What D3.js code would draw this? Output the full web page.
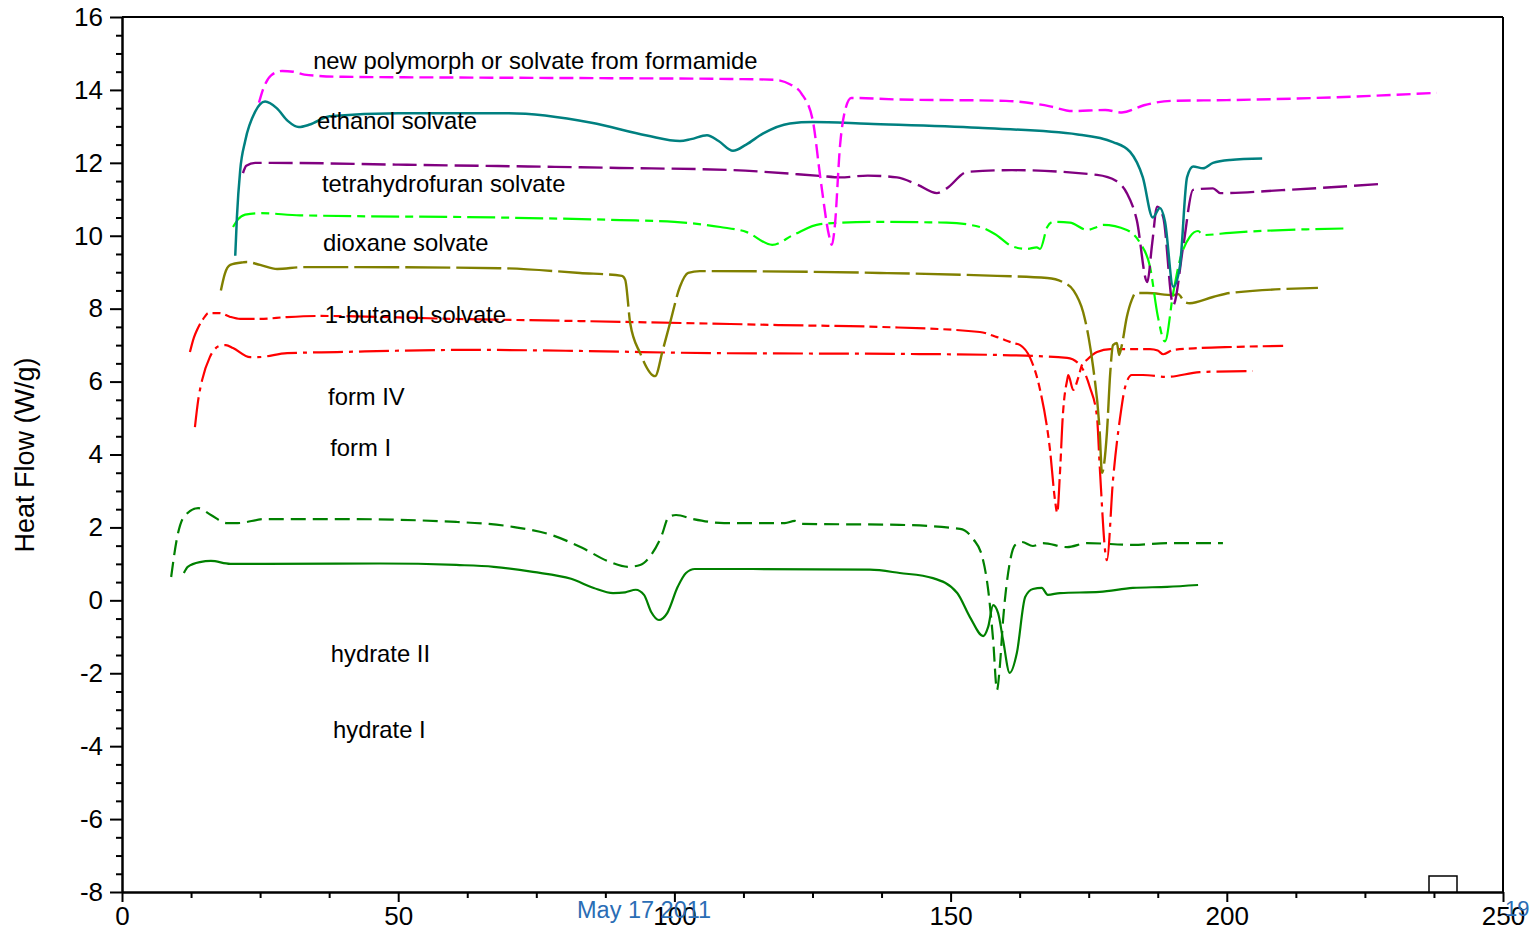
<!DOCTYPE html>
<html>
<head>
<meta charset="utf-8">
<script src="https://cdn.jsdelivr.net/npm/d3@7/dist/d3.min.js"></script>
<style>
  html, body { margin: 0; padding: 0; background: #fff; }
  svg { display: block; font-family: "Liberation Sans", Arial, sans-serif; }
</style>
</head>
<body>
<svg id="chart" width="1539" height="933"></svg>
<script>
// DSC thermograms: temperature (°C) vs heat flow (W/g), traces offset vertically

const xTicks = [0, 50, 100, 150, 200, 250];
const yTicks = [-8, -6, -4, -2, 0, 2, 4, 6, 8, 10, 12, 14, 16];

const formamide = [
  [24.8, 13.65], [25.5, 14.0], [27, 14.4], [29, 14.52], [31, 14.5], [33, 14.42], [40, 14.36],
  [60, 14.34], [90, 14.32], [110, 14.3], [118, 14.28], [121, 14.15], [123, 13.9], [125, 13.2],
  [126.5, 11.5], [128, 10.0], [128.5, 9.75], [129, 10.2], [130, 12.5], [131, 13.5], [132, 13.78],
  [140, 13.74], [160, 13.7], [168, 13.55], [172, 13.42], [178, 13.45], [181, 13.38], [185, 13.58],
  [190, 13.7], [200, 13.72], [220, 13.8], [238, 13.92]
];

const ethanol = [
  [20.5, 9.45], [20.8, 10.5], [21.4, 11.8], [22.3, 12.6], [24.1, 13.4], [25.9, 13.68], [28, 13.5],
  [30, 13.15], [32, 12.98], [34, 13.05], [37.6, 13.28], [50, 13.36], [70, 13.36], [85, 13.1],
  [95, 12.75], [101, 12.6], [103, 12.65], [105.9, 12.76], [108, 12.6], [110.6, 12.33], [113, 12.5],
  [116, 12.8], [120.9, 13.08], [125, 13.12], [135, 13.07], [155, 12.96], [173, 12.78], [179.4, 12.57],
  [182.5, 12.3], [184.8, 11.6], [186.6, 10.5], [187.9, 10.76], [188.8, 10.4], [190.3, 8.6],
  [191.5, 9.15], [192.8, 11.6], [193.9, 11.9], [195.7, 11.85], [197.5, 12.0], [200.6, 12.08], [206.4, 12.12]
];

const thf = [
  [21.9, 11.72], [22.5, 11.92], [24.1, 12.0], [27, 12.0], [50, 11.95], [90, 11.86], [110.6, 11.8],
  [126.4, 11.64], [130, 11.6], [135, 11.65], [140.3, 11.6], [144, 11.4], [147.5, 11.17], [149.3, 11.3],
  [153, 11.75], [161, 11.8], [176.5, 11.67], [180, 11.5], [181.9, 11.17], [183.7, 10.43], [185.6, 8.73],
  [186.5, 9.8], [187.4, 10.8], [188.5, 10.5], [190.3, 8.1], [192.1, 9.7], [193.9, 11.26], [197.5, 11.3],
  [198.8, 11.17], [210, 11.25], [227.7, 11.42]
];

const dioxane = [
  [20.1, 10.24], [21, 10.45], [22.3, 10.58], [25, 10.62], [32.2, 10.56], [68.4, 10.5], [90.2, 10.43],
  [100, 10.38], [108.3, 10.24], [113.1, 10.1], [117.7, 9.75], [121.5, 10.02], [126.4, 10.32],
  [135.4, 10.38], [149.3, 10.36], [155.3, 10.24], [158, 10.05], [161.3, 9.7], [163.8, 9.64],
  [165.6, 9.68], [166.2, 9.64], [167.5, 10.24], [168.5, 10.38], [171.6, 10.36], [174.7, 10.16],
  [176.5, 10.24], [177.6, 10.3], [181.9, 10.16], [184.3, 9.8], [186.1, 9.15], [187.5, 7.8], [188.8, 7.1],
  [190.3, 8.43], [191.5, 9.33], [193.3, 9.97], [194.8, 10.13], [195.7, 10.02], [200.6, 10.08], [221.4, 10.2]
];

const butanol = [
  [17.9, 8.5], [18.6, 8.95], [19.6, 9.2], [21.9, 9.27], [22.6, 9.28], [25, 9.2], [28.1, 9.09],
  [32.8, 9.14], [41.3, 9.14], [68.4, 9.11], [82.9, 8.98], [90.5, 8.9], [91.1, 8.79], [92, 7.6],
  [93.8, 6.78], [96.5, 6.15], [97.9, 6.87], [99.2, 7.6], [101, 8.6], [102.5, 8.98], [104.6, 9.03],
  [137.2, 8.98], [158.4, 8.9], [167.5, 8.84], [170.3, 8.73], [172.2, 8.51], [174, 7.9], [175, 7.2],
  [175.8, 6.4], [177, 4.6], [177.4, 3.5], [178.3, 4.6], [178.9, 6.24], [179.4, 7.0], [180.1, 7.06],
  [180.5, 6.73], [181, 7.0], [181.9, 7.77], [182.8, 8.24], [183.5, 8.43], [185.6, 8.43], [190.3, 8.37],
  [191.2, 8.4], [192.4, 8.18], [193.3, 8.15], [197.5, 8.32], [200.6, 8.43], [216.5, 8.57]
];

const formIV = [
  [12.3, 6.81], [13.0, 7.2], [13.6, 7.42], [15.0, 7.78], [15.6, 7.88], [17.7, 7.88], [19.5, 7.78],
  [21.4, 7.72], [25, 7.72], [29.9, 7.77], [35.8, 7.8], [60, 7.72], [82.9, 7.66], [110.1, 7.58],
  [119.1, 7.55], [137.2, 7.5], [155.3, 7.36], [158.4, 7.22], [161.3, 7.06], [162.6, 7.0], [164.4, 6.65],
  [166.2, 5.77], [168, 4.12], [168.9, 2.75], [169.3, 2.4], [169.8, 3.5], [170.3, 5.03], [171.1, 6.04],
  [171.3, 6.18], [172.2, 5.77], [173.1, 6.1], [173.8, 6.46], [174.7, 6.6], [176.5, 6.81], [178.9, 6.89],
  [186.1, 6.89], [187.5, 6.85], [188.5, 6.75], [190.3, 6.87], [195.1, 6.92], [201.1, 6.95], [210.2, 6.98]
];

const formI = [
  [13.2, 4.75], [13.8, 5.5], [14.5, 6.04], [15.9, 6.67], [17.7, 6.98], [18.8, 7.0], [20.1, 6.92],
  [23.2, 6.67], [24.6, 6.67], [29.9, 6.78], [38.9, 6.81], [63, 6.87], [82.9, 6.84], [107, 6.78],
  [140, 6.76], [158.9, 6.73], [171.1, 6.65], [173.4, 6.46], [175.2, 5.85], [176.5, 5.03], [177, 3.66],
  [178.3, 1.1], [179.4, 3.3], [180.7, 5.03], [181.6, 5.85], [182.8, 6.18], [184.8, 6.18], [189.2, 6.13],
  [195.1, 6.26], [204.7, 6.29]
];

const hydrateII = [
  [8.9, 0.64], [10.0, 1.74], [11.2, 2.29], [13.8, 2.53], [16.1, 2.34], [19.0, 2.12], [21.0, 2.12],
  [25.9, 2.23], [39.6, 2.23], [60.5, 2.15], [71, 2.01], [77.8, 1.79], [83.3, 1.44], [88.2, 1.06],
  [91.6, 0.92], [93.8, 0.97], [95.8, 1.25], [97.6, 1.74], [99, 2.29], [100.3, 2.34], [103.4, 2.23],
  [109, 2.12], [113.1, 2.12], [120, 2.12], [121.8, 2.18], [123, 2.1], [140.8, 2.07], [151.7, 1.96],
  [154.1, 1.68], [155.7, 1.21], [156.8, 0.29], [157.7, -1.09], [158.4, -2.46], [158.9, -1.83],
  [159.5, -0.54], [160.7, 1.02], [161.7, 1.52], [162.9, 1.6], [164.9, 1.49], [166.7, 1.57],
  [171.1, 1.46], [174.7, 1.57], [183, 1.52], [189.2, 1.57], [199.3, 1.57]
];

const hydrateI = [
  [11.2, 0.75], [11.9, 0.92], [14.1, 1.05], [16.1, 1.08], [19.6, 1.0], [25.9, 1.0], [46.7, 1.01],
  [60.5, 0.97], [67.3, 0.92], [74.4, 0.78], [81.3, 0.59], [85.4, 0.34], [88.9, 0.2], [91.1, 0.22],
  [93, 0.29], [94.5, 0.15], [95.8, -0.32], [97.2, -0.54], [98.7, -0.35], [100.6, 0.37], [102.1, 0.75],
  [103.7, 0.86], [113.7, 0.86], [135.4, 0.84], [140.8, 0.75], [146.8, 0.61], [151.2, 0.2], [153.5, -0.46],
  [155.9, -0.98], [156.8, -0.73], [157.7, -0.13], [158.6, -0.35], [159.5, -1.09], [160.7, -1.99],
  [162, -1.44], [163.5, 0.09], [164.9, 0.31], [166.5, 0.34], [167.6, 0.15], [169.8, 0.2], [177, 0.23],
  [183, 0.34], [189.2, 0.37], [194.8, 0.42]
];

// Trace labels: text and anchor (temperature, heat flow) of the text's left/middle
const labelTexts = [
  "new polymorph or solvate from formamide", "ethanol solvate", "tetrahydrofuran solvate",
  "dioxane solvate", "1-butanol solvate", "form IV", "form I", "hydrate II", "hydrate I"
];
const labelAnchors = [
  [34.6, 14.79], [35.3, 13.15], [36.2, 11.42], [36.4, 9.80], [36.7, 7.83],
  [37.3, 5.58], [37.7, 4.18], [37.8, -1.47], [38.2, -3.56]
];

// drawn bottom to top
const traces = [
  { data: hydrateI,  color: "#008000", dash: null,              width: 2.2 },
  { data: hydrateII, color: "#008000", dash: "15,7",            width: 2.2 },
  { data: formI,     color: "#ff0000", dash: "30,6,4,6",        width: 2.2 },
  { data: formIV,    color: "#ff0000", dash: "30,5,8,5,8,5",    width: 2.2 },
  { data: butanol,   color: "#808000", dash: "45,6",            width: 2.4 },
  { data: dioxane,   color: "#00ff00", dash: "28,6,8,6",        width: 2.2 },
  { data: thf,       color: "#800080", dash: "24,7",            width: 2.4 },
  { data: ethanol,   color: "#008080", dash: null,              width: 2.5 },
  { data: formamide, color: "#ff00ff", dash: "14,6",            width: 2.4 }
];

const svg = d3.select("#chart");
const plotLeft = 122, plotRight = 1503, plotTop = 17, plotBottom = 892;

const x = d3.scaleLinear().domain([0, 250]).range([plotLeft, plotRight]);
const y = d3.scaleLinear().domain([-8, 16]).range([plotBottom, plotTop]);

// frame
svg.append("line").attr("x1", plotLeft).attr("x2", plotRight).attr("y1", plotTop).attr("y2", plotTop)
  .attr("stroke", "#000").attr("stroke-width", 2);
svg.append("line").attr("x1", plotRight).attr("x2", plotRight).attr("y1", plotTop).attr("y2", plotBottom)
  .attr("stroke", "#000").attr("stroke-width", 2);

// minor ticks
const yMinor = d3.range(-8, 16.01, 0.5).filter(v => v % 2 !== 0);
const xMinor = d3.range(0, 250.01, 12.5).filter(v => v % 50 !== 0);

svg.append("g").attr("transform", `translate(${plotLeft},0)`)
  .call(d3.axisLeft(y).tickValues(yMinor).tickSize(6).tickFormat(""))
  .call(g => g.select(".domain").remove())
  .selectAll("line").attr("stroke-width", 2);

svg.append("g").attr("transform", `translate(0,${plotBottom})`)
  .call(d3.axisBottom(x).tickValues(xMinor).tickSize(6).tickFormat(""))
  .call(g => g.select(".domain").remove())
  .selectAll("line").attr("stroke-width", 2);

// major axes (plain hyphen for negatives)
const yAxis = svg.append("g").attr("transform", `translate(${plotLeft},0)`)
  .call(d3.axisLeft(y).tickValues(yTicks).tickSize(12).tickPadding(7).tickSizeOuter(0).tickFormat(d => String(d)));
yAxis.select(".domain").attr("stroke-width", 2.5);
yAxis.selectAll("line").attr("stroke-width", 2);
yAxis.selectAll("text").attr("font-size", 26).attr("fill", "#000");

const xAxis = svg.append("g").attr("transform", `translate(0,${plotBottom})`)
  .call(d3.axisBottom(x).tickValues(xTicks).tickSize(10).tickPadding(5).tickSizeOuter(0).tickFormat(d => String(d)));
xAxis.select(".domain").attr("stroke-width", 2.5);
xAxis.selectAll("line").attr("stroke-width", 2);
xAxis.selectAll("text").attr("font-size", 26).attr("fill", "#000");

// axis title
svg.append("text")
  .attr("transform", `translate(34,455) rotate(-90)`)
  .attr("text-anchor", "middle")
  .attr("font-size", 27)
  .attr("fill", "#000")
  .text("Heat Flow (W/g)");

// traces
const line = d3.line()
  .x(d => x(d[0]))
  .y(d => y(d[1]))
  .curve(d3.curveMonotoneX);

svg.append("g").selectAll("path")
  .data(traces)
  .join("path")
  .attr("d", d => line(d.data))
  .attr("fill", "none")
  .attr("stroke", d => d.color)
  .attr("stroke-width", d => d.width)
  .attr("stroke-dasharray", d => d.dash)
  .attr("stroke-linejoin", "round");

// trace labels
svg.append("g").selectAll("text")
  .data(labelTexts)
  .join("text")
  .attr("x", (d, i) => x(labelAnchors[i][0]))
  .attr("y", (d, i) => y(labelAnchors[i][1]))
  .attr("dy", "0.35em")
  .attr("font-size", 23.8)
  .attr("fill", "#000")
  .text(d => d);

// footer: date and page number
svg.append("text").attr("x", 577).attr("y", 918)
  .attr("font-size", 23.5).attr("fill", "#2a6db5").text("May 17 2011");
svg.append("text").attr("x", 1505).attr("y", 916)
  .attr("font-size", 22).attr("fill", "#2a6db5").text("19");

// small marker box on the baseline
svg.append("rect").attr("x", 1429).attr("y", 876).attr("width", 28).attr("height", 16)
  .attr("fill", "#fff").attr("stroke", "#000").attr("stroke-width", 1.5);
</script>
</body>
</html>
